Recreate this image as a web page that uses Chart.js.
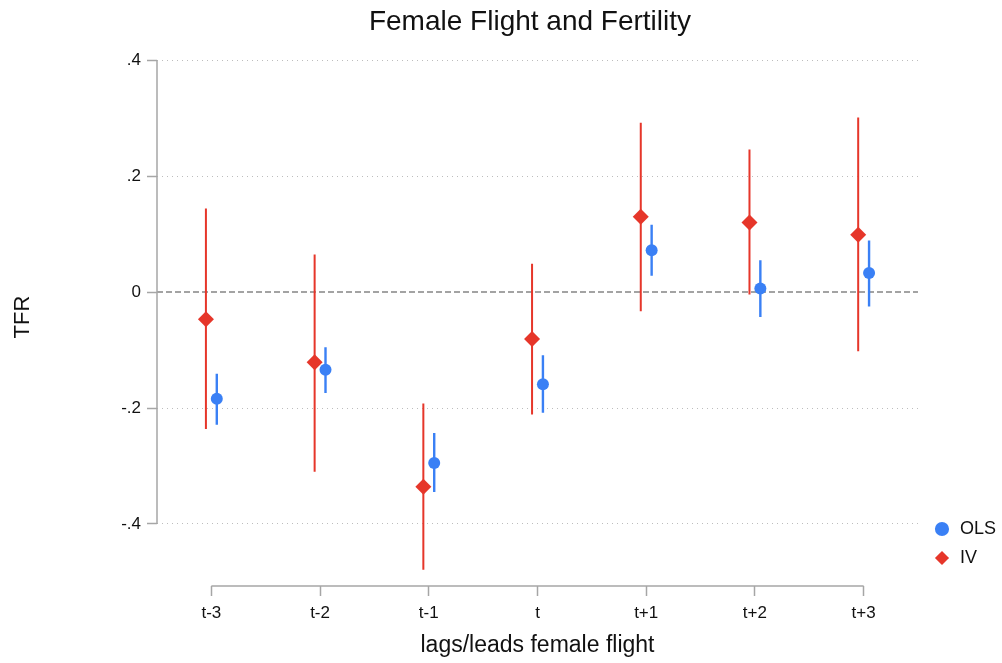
<!DOCTYPE html>
<html><head><meta charset="utf-8">
<script src="https://cdn.jsdelivr.net/npm/chart.js@4"></script>
<style>html,body{margin:0;padding:0;background:#fff}</style>
</head><body>
<canvas id="c" width="1002" height="663"></canvas>
<script>
const categories = ['t-3','t-2','t-1','t','t+1','t+2','t+3'];
const olsEst  = [-0.184,-0.134,-0.295,-0.159, 0.072, 0.006, 0.033];
const olsLow  = [-0.229,-0.174,-0.345,-0.208, 0.028,-0.043,-0.025];
const olsHigh = [-0.141,-0.095,-0.243,-0.109, 0.116, 0.055, 0.089];
const ivEst   = [-0.047,-0.121,-0.336,-0.081, 0.130, 0.120, 0.099];
const ivLow   = [-0.236,-0.310,-0.479,-0.211,-0.033,-0.004,-0.102];
const ivHigh  = [ 0.144, 0.065,-0.192, 0.049, 0.292, 0.246, 0.301];
const yTickValues = [-0.4,-0.2,0,0.2,0.4];
const yTickLabels = ['-.4','-.2','0','.2','.4'];
const chartTitle = 'Female Flight and Fertility';
const xTitle = 'lags/leads female flight';
const yTitle = 'TFR';

const FONT = "'Liberation Sans', Arial, Helvetica, sans-serif";
const RED = '#e6362a';
const BLUE = '#3a80f5';
const GRAY = '#a6a6a6';
const ivOff = -0.05, olsOff = 0.05;
const xMin = -0.5, xMax = 6.5;

function barData(low, high, off){
  const d = [];
  categories.forEach((c,i)=>{
    d.push({x:i+off, y:low[i]});
    d.push({x:i+off, y:high[i]});
    d.push({x:i+off, y:null});
  });
  return d;
}
function ptData(est, off){ return categories.map((c,i)=>({x:i+off, y:est[i]})); }

const axisLines = {
  id:'axisLines',
  afterLayout(chart){
    const lg = chart.legend;
    if (lg) {
      lg.bottom = chart.chartArea.bottom - 8;
      lg.left = lg.left + 4;
    }
  },
  afterDraw(chart){
    const {ctx, scales:{x,y}, chartArea} = chart;
    ctx.save();
    ctx.strokeStyle = GRAY; ctx.lineWidth = 1.5;
    ctx.beginPath();
    ctx.moveTo(chartArea.left, y.getPixelForValue(yTickValues[yTickValues.length-1]));
    ctx.lineTo(chartArea.left, y.getPixelForValue(yTickValues[0]));
    ctx.moveTo(x.getPixelForValue(0), chartArea.bottom);
    ctx.lineTo(x.getPixelForValue(categories.length-1), chartArea.bottom);
    ctx.stroke();
    ctx.fillStyle = '#111';
    ctx.font = "28px " + FONT;
    ctx.textAlign = 'center';
    ctx.textBaseline = 'middle';
    ctx.fillText(chartTitle, 530, 22);
    ctx.restore();
  }
};

new Chart(document.getElementById('c'), {
  type:'scatter',
  data:{datasets:[
    {label:'', data:[{x:xMin,y:0},{x:xMax,y:0}], showLine:true, borderColor:'#858585', borderWidth:1.5, borderDash:[6,3], pointRadius:0, order:5},
    {label:'', data:barData(ivLow, ivHigh, ivOff), showLine:true, spanGaps:false, borderColor:RED, borderWidth:2, pointRadius:0, order:4},
    {label:'', data:barData(olsLow, olsHigh, olsOff), showLine:true, spanGaps:false, borderColor:BLUE, borderWidth:2.4, pointRadius:0, order:3},
    {label:'OLS', data:ptData(olsEst, olsOff), pointStyle:'circle', pointRadius:6, backgroundColor:BLUE, borderColor:BLUE, borderWidth:0, order:1},
    {label:'IV', data:ptData(ivEst, ivOff), pointStyle:'rectRot', pointRadius:8, backgroundColor:RED, borderColor:RED, borderWidth:0, order:2}
  ]},
  options:{
    responsive:false, animation:false,
    layout:{padding:{top:48, right:0, left:0, bottom:0}},
    plugins:{
      title:{display:false},
      tooltip:{enabled:false},
      legend:{position:'right', align:'end',
        labels:{usePointStyle:true, boxHeight:10, padding:11, color:'#111', font:{size:18, family:FONT},
          filter:(item)=>!!item.text}}
    },
    scales:{
      x:{type:'linear', min:xMin, max:xMax,
        afterBuildTicks:(s)=>{ s.ticks = categories.map((c,i)=>({value:i})); },
        ticks:{callback:(v)=>categories[v] ?? '', font:{size:17, family:FONT}, color:'#111', padding:7, maxRotation:0, autoSkip:false},
        grid:{drawOnChartArea:false, tickLength:10, tickColor:GRAY, tickWidth:1.5},
        border:{display:false},
        title:{display:true, text:xTitle, font:{size:23, family:FONT}, color:'#111', padding:{top:4, bottom:4}},
        afterFit:(s)=>{ s.height = 77; }
      },
      y:{min:-0.507, max:0.421,
        afterBuildTicks:(s)=>{ s.ticks = yTickValues.map(v=>({value:v})); },
        ticks:{callback:(v)=>{ const i = yTickValues.indexOf(v); return i>=0 ? yTickLabels[i] : ''; }, font:{size:17, family:FONT}, color:'#111', padding:6},
        grid:{color:(ctx)=> (ctx.tick && ctx.tick.value===0) ? 'rgba(0,0,0,0)' : '#bdbdbd', lineWidth:1, tickLength:10, tickColor:GRAY, tickWidth:1.5},
        border:{display:false, dash:[1,4]},
        title:{display:true, text:yTitle, font:{size:22, family:FONT}, color:'#111', padding:{top:10, bottom:0}},
        afterFit:(s)=>{ s.width = 157; }
      }
    }
  },
  plugins:[axisLines]
});
</script>
</body></html>
